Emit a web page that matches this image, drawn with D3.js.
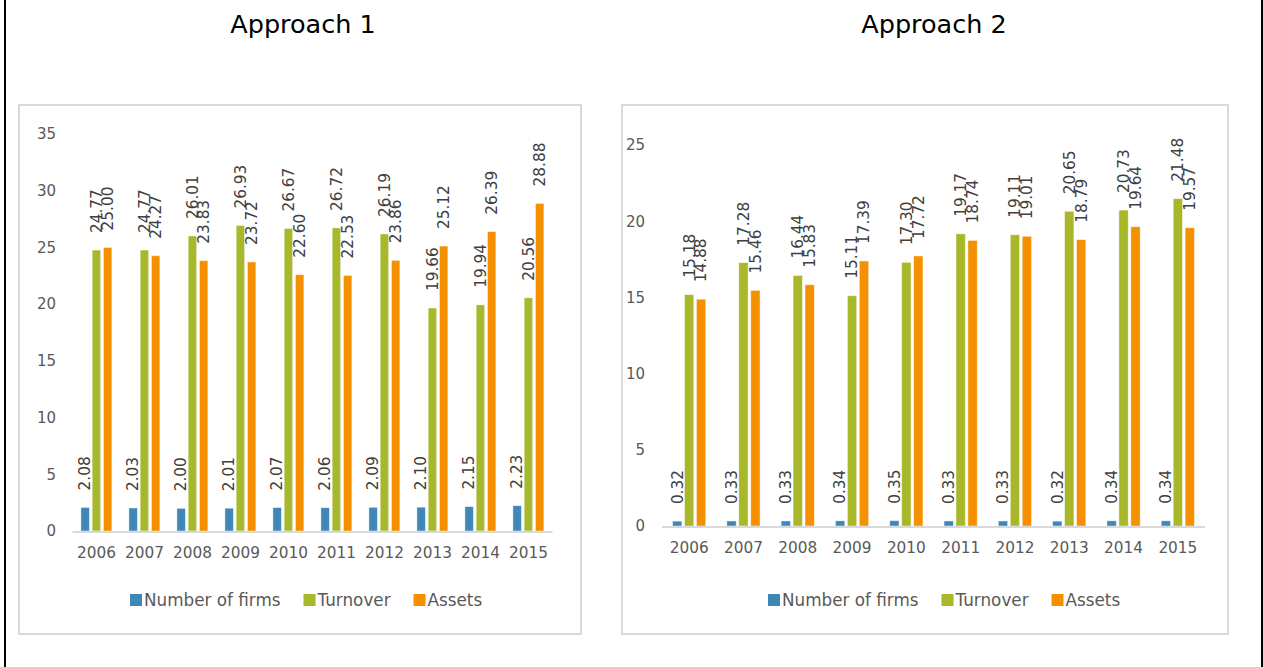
<!DOCTYPE html>
<html>
<head>
<meta charset="utf-8">
<script src="https://cdn.jsdelivr.net/npm/d3@7"></script>
<style>
  body { margin: 0; background: #fff; }
  svg { display: block; font-family: "DejaVu Sans", sans-serif; }
</style>
</head>
<body>
<svg id="chart" width="1263" height="667"></svg>
<script>
var years = ["2006", "2007", "2008", "2009", "2010", "2011", "2012", "2013", "2014", "2015"];
var seriesNames = ["Number of firms", "Turnover", "Assets"];
var colors = ["#3e87b6", "#a8b82a", "#f59100"];

// Approach 1
var firms1 = [2.08, 2.03, 2.00, 2.01, 2.07, 2.06, 2.09, 2.10, 2.15, 2.23];
var turnover1 = [24.77, 24.77, 26.01, 26.93, 26.67, 26.72, 26.19, 19.66, 19.94, 20.56];
var assets1 = [25.00, 24.27, 23.83, 23.72, 22.60, 22.53, 23.86, 25.12, 26.39, 28.88];
var ticks1 = [0, 5, 10, 15, 20, 25, 30, 35];

// Approach 2
var firms2 = [0.32, 0.33, 0.33, 0.34, 0.35, 0.33, 0.33, 0.32, 0.34, 0.34];
var turnover2 = [15.18, 17.28, 16.44, 15.11, 17.30, 19.17, 19.11, 20.65, 20.73, 21.48];
var assets2 = [14.88, 15.46, 15.83, 17.39, 17.72, 18.74, 19.01, 18.79, 19.64, 19.57];
var ticks2 = [0, 5, 10, 15, 20, 25];

var svg = d3.select("#chart");

// black side rules of the page
svg.append("rect").attr("x", 4).attr("y", 0).attr("width", 2).attr("height", 667).attr("fill", "#000");
svg.append("rect").attr("x", 1261).attr("y", 0).attr("width", 2).attr("height", 667).attr("fill", "#000");

function drawPanel(opt) {
    var data = years.map(function(y, i) {
        return { year: y, values: [opt.firms[i], opt.turnover[i], opt.assets[i]] };
    });

    // title
    svg.append("text")
        .attr("x", opt.titleX)
        .attr("y", 33)
        .attr("text-anchor", "middle")
        .attr("font-size", 25.5)
        .attr("fill", "#000")
        .text(opt.title);

    // chart frame
    svg.append("rect")
        .attr("x", opt.box[0]).attr("y", opt.box[1])
        .attr("width", opt.box[2] - opt.box[0]).attr("height", opt.box[3] - opt.box[1])
        .attr("fill", "#fff")
        .attr("stroke", "#d9d9d9")
        .attr("stroke-width", 2);

    var x0 = d3.scaleBand().domain(years).range([opt.x0, opt.x1]);
    var bw = x0.bandwidth();
    var x1 = d3.scaleBand().domain(d3.range(3))
        .range([bw / 2 - opt.group / 2, bw / 2 + opt.group / 2])
        .paddingInner(opt.inner);
    var y = d3.scaleLinear().domain([0, opt.max]).range([opt.y0, opt.yTop]);

    var g = svg.append("g");

    // y tick labels (no axis line)
    var yAxis = d3.axisLeft(y).tickValues(opt.ticks).tickSize(0).tickPadding(0);
    var ya = g.append("g")
        .attr("transform", "translate(" + opt.yLabelX + ",0)")
        .call(yAxis);
    ya.select(".domain").remove();
    ya.selectAll("text")
        .attr("font-family", "DejaVu Sans")
        .attr("font-size", 15)
        .attr("fill", "#595959")
        .attr("dy", "0.32em");

    // bars
    var groups = g.selectAll(".grp")
        .data(data)
        .enter().append("g")
        .attr("class", "grp")
        .attr("transform", function(d) { return "translate(" + x0(d.year) + ",0)"; });

    groups.selectAll("rect")
        .data(function(d) { return d.values; })
        .enter().append("rect")
        .attr("x", function(v, i) { return x1(i); })
        .attr("y", function(v) { return y(v); })
        .attr("width", x1.bandwidth())
        .attr("height", function(v) { return y(0) - y(v); })
        .attr("fill", function(v, i) { return colors[i]; })
        .attr("stroke", "rgba(255,255,255,0.55)")
        .attr("stroke-width", 0.8);

    // rotated value labels
    groups.selectAll("text.val")
        .data(function(d) { return d.values; })
        .enter().append("text")
        .attr("class", "val")
        .attr("transform", function(v, i) {
            return "translate(" + (x1(i) + x1.bandwidth() / 2) + "," + (y(v) - 17) + ") rotate(-90)";
        })
        .attr("dy", "0.35em")
        .attr("font-size", 15.3)
        .attr("fill", "#404040")
        .text(function(v) { return v.toFixed(2); });

    // baseline
    g.append("line")
        .attr("x1", opt.x0).attr("x2", opt.x1)
        .attr("y1", y(0) + 1).attr("y2", y(0) + 1)
        .attr("stroke", "#d9d9d9")
        .attr("stroke-width", 2);

    // x labels
    var xAxis = d3.axisBottom(x0).tickSize(0).tickPadding(0);
    var xa = g.append("g")
        .attr("transform", "translate(0," + opt.xLabelY + ")")
        .call(xAxis);
    xa.select(".domain").remove();
    xa.selectAll("text")
        .attr("font-family", "DejaVu Sans")
        .attr("font-size", 15.3)
        .attr("fill", "#595959")
        .attr("dy", "0.35em");

    // legend
    var lx = opt.legendX;
    seriesNames.forEach(function(name, i) {
        g.append("rect")
            .attr("x", lx).attr("y", opt.legendY - 6)
            .attr("width", 12).attr("height", 12)
            .attr("fill", colors[i]);
        var t = g.append("text")
            .attr("x", lx + 14)
            .attr("y", opt.legendY)
            .attr("dy", "0.35em")
            .attr("font-size", 16.8)
            .attr("fill", "#595959")
            .text(name);
        lx += 14 + t.node().getComputedTextLength() + 23;
    });
}

drawPanel({
    title: "Approach 1", titleX: 303,
    box: [19, 105, 581, 634],
    firms: firms1, turnover: turnover1, assets: assets1,
    max: 35, ticks: ticks1,
    x0: 72.4, x1: 552.4, group: 31, inner: 0.25,
    y0: 531, yTop: 134,
    yLabelX: 56, xLabelY: 553,
    legendX: 130, legendY: 600
});

drawPanel({
    title: "Approach 2", titleX: 934,
    box: [622, 105, 1228, 634],
    firms: firms2, turnover: turnover2, assets: assets2,
    max: 25, ticks: ticks2,
    x0: 662, x1: 1205, group: 33.2, inner: 0.22,
    y0: 526, yTop: 145,
    yLabelX: 645, xLabelY: 548,
    legendX: 768, legendY: 600
});
</script>
</body>
</html>
